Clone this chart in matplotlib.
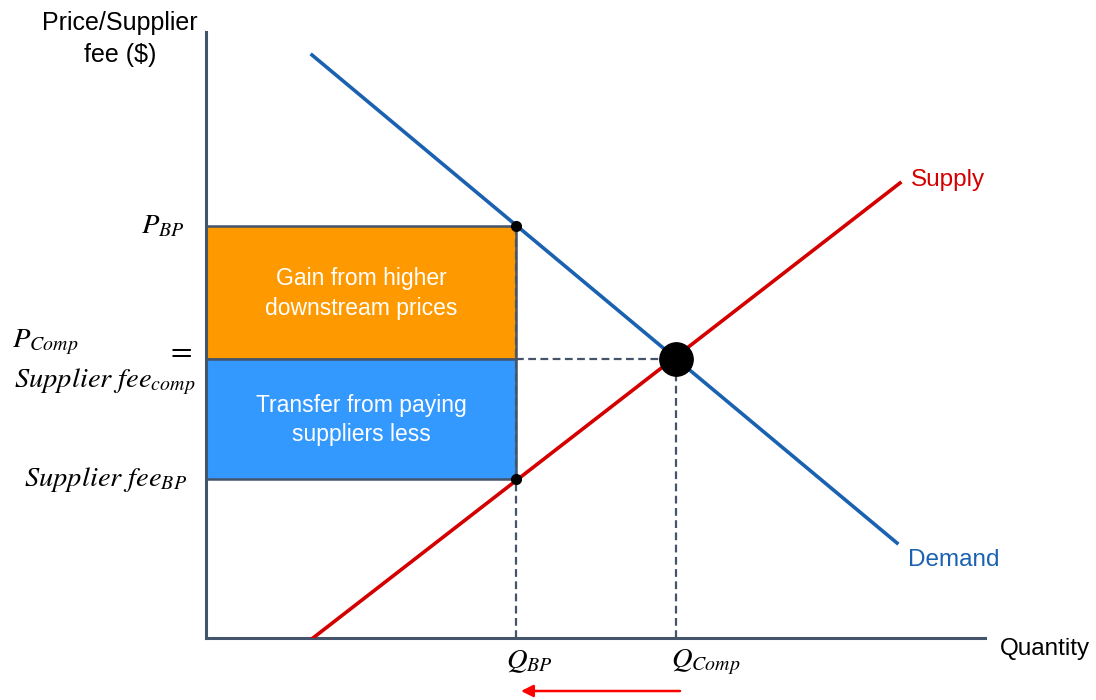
import matplotlib
matplotlib.use("Agg")
import matplotlib.pyplot as plt
from matplotlib.patches import Rectangle

plt.rcParams["font.family"] = ["Liberation Sans", "DejaVu Sans"]
plt.rcParams["mathtext.fontset"] = "stix"

# Curve endpoints (quantity, price)
demand_q = [10.6, 69.1]
demand_p = [58.3, 9.5]
supply_q = [10.7, 69.4]
supply_p = [0.0, 45.5]

# Key market values
q_bp = 31.0
q_comp = 47.0
p_bp = 41.2
p_comp = 27.9
fee_bp = 15.9

x_max = 77.9
y_max = 60.6

axis_col = "#44546A"
demand_col = "#1A62B0"
supply_col = "#D40000"
orange = "#FF9900"
blue = "#3399FF"

fig = plt.figure(figsize=(10.96, 7.0), dpi=100)
ax = fig.add_axes([206 / 1096, 62 / 700, 779 / 1096, 606 / 700])
ax.set_xlim(0, x_max)
ax.set_ylim(0, y_max)
for s in ("top", "right"):
    ax.spines[s].set_visible(False)
for s in ("left", "bottom"):
    ax.spines[s].set_color(axis_col)
    ax.spines[s].set_linewidth(2.2)
ax.set_xticks([])
ax.set_yticks([])

# Surplus rectangles
ax.add_patch(Rectangle((0, p_comp), q_bp, p_bp - p_comp, facecolor=orange,
                       edgecolor=axis_col, linewidth=1.8, zorder=2))
ax.add_patch(Rectangle((0, fee_bp), q_bp, p_comp - fee_bp, facecolor=blue,
                       edgecolor=axis_col, linewidth=1.8, zorder=2))

ax.text(q_bp / 2, (p_bp + p_comp) / 2 - 0.1, "Gain from higher\ndownstream prices",
        color="white", ha="center", va="center", fontsize=16.5, linespacing=1.38, zorder=3)
ax.text(q_bp / 2, (p_comp + fee_bp) / 2 - 0.1, "Transfer from paying\nsuppliers less",
        color="white", ha="center", va="center", fontsize=16.5, linespacing=1.38, zorder=3)

# Dashed guide lines
dash = dict(color=axis_col, linestyle=(0, (3.5, 2)), linewidth=1.6, zorder=2)
ax.plot([q_bp, q_bp], [0, p_bp], **dash)
ax.plot([q_bp, q_comp], [p_comp, p_comp], **dash)
ax.plot([q_comp, q_comp], [0, p_comp], **dash)

# Demand and supply
ax.plot(demand_q, demand_p, color=demand_col, linewidth=2.6, zorder=4)
ax.plot(supply_q, supply_p, color=supply_col, linewidth=2.6, zorder=4)

# Points
ax.plot([q_bp, q_bp], [p_bp, fee_bp], "o", color="black", markersize=7, zorder=5)
ax.plot([q_comp], [p_comp], "o", color="black", markersize=24, zorder=5)

# Curve labels
ax.text(70.5, 45.8, "Supply", color=supply_col, fontsize=17.5, ha="left", va="center")
ax.text(70.2, 7.8, "Demand", color=demand_col, fontsize=17.5, ha="left", va="center")
ax.text(79.4, -1.1, "Quantity", color="black", fontsize=17.5, ha="left", va="center",
        clip_on=False)
fig.text(120 / 1096, 1 - 39 / 700, "Price/Supplier\nfee ($)", fontsize=18,
         ha="center", va="center", linespacing=1.42)

# Axis value labels
ms = 20.5
ax.text(-2.1, p_bp, r"$P_{BP}$", fontsize=ms, ha="right", va="center", clip_on=False)
ax.text(-19.4, p_comp + 1.7, r"$P_{Comp}$", fontsize=ms, ha="left", va="center",
        clip_on=False)
ax.text(-1.4, p_comp + 0.8, r"$=$", fontsize=ms + 2, ha="right", va="center", clip_on=False)
ax.text(-1.0, p_comp - 2.3, r"$Supplier\ fee_{comp}$", fontsize=ms, ha="right",
        va="center", clip_on=False)
ax.text(-1.9, fee_bp, r"$Supplier\ fee_{BP}$", fontsize=ms, ha="right", va="center",
        clip_on=False)
ax.text(q_bp - 1.0, -2.4, r"$Q_{BP}$", fontsize=ms, ha="left", va="center", clip_on=False)
ax.text(q_comp - 0.5, -2.4, r"$Q_{Comp}$", fontsize=ms, ha="left", va="center",
        clip_on=False)

# Quantity reduction arrow
ax.annotate("", xy=(q_bp + 0.5, -5.3), xytext=(q_comp + 0.4, -5.3),
            arrowprops=dict(arrowstyle="-|>", color="red", lw=1.8,
                            mutation_scale=18, shrinkA=0, shrinkB=0),
            annotation_clip=False)

fig.savefig("out.png", dpi=100)
